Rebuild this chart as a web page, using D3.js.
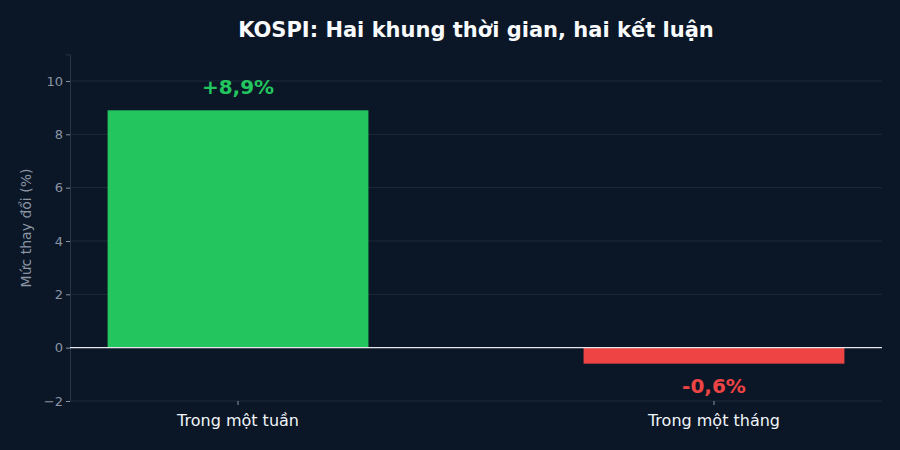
<!DOCTYPE html>
<html><head><meta charset="utf-8">
<script src="https://cdn.jsdelivr.net/npm/d3@7"></script>
<style>body{margin:0;background:#0b1727}</style></head>
<body><svg id="c" width="900" height="450"></svg>
<script>
const categories = ["Trong một tuần", "Trong một tháng"];
const values = [8.9, -0.6];
const valueLabels = ["+8,9%", "-0,6%"];
const yTicks = [-2, 0, 2, 4, 6, 8, 10];
const colors = ["#22c55e", "#ef4444"];

const svg = d3.select("#c");
const font = "DejaVu Sans, sans-serif";
svg.append("rect").attr("width",900).attr("height",450).attr("fill","#0b1727");
const x = d3.scaleBand().domain(categories).range([70,882]).paddingInner(0.452).paddingOuter(0.079);
const y = d3.scaleLinear().domain([-2,11]).range([401,54.3]);

svg.append("g").selectAll("line").data(yTicks).join("line")
  .attr("x1",70).attr("x2",882).attr("y1",d=>y(d)).attr("y2",d=>y(d))
  .attr("stroke","#1e2a3b").attr("stroke-width",1);

const ya = svg.append("g").attr("transform","translate(70,0)").call(d3.axisLeft(y).tickValues(yTicks).tickFormat(d=>d<0?"\u2212"+(-d):d).tickSize(4));
ya.select(".domain").attr("stroke","#2a3647");
ya.selectAll(".tick line").attr("stroke","#8a94a3");
ya.selectAll("text").attr("fill","#8a94a3").attr("font-size",13).attr("font-family",font);

svg.append("g").selectAll("rect").data(values).join("rect")
  .attr("x",(d,i)=>x(categories[i])).attr("width",x.bandwidth())
  .attr("y",d=>y(Math.max(0,d))).attr("height",d=>Math.abs(y(d)-y(0)))
  .attr("fill",(d,i)=>colors[i]);

svg.append("line").attr("x1",70).attr("x2",882).attr("y1",y(0)).attr("y2",y(0)).attr("stroke","#e5e7eb").attr("stroke-width",1.2);

const xa = svg.append("g").attr("transform","translate(0,401)").call(d3.axisBottom(x).tickSize(4));
xa.select(".domain").remove();
xa.selectAll(".tick line").attr("stroke","#8a94a3");
xa.selectAll("text").attr("fill","#f1f5f9").attr("font-size",16).attr("font-family",font).attr("dy","1.1em");

svg.append("g").selectAll("text").data(values).join("text")
  .attr("x",(d,i)=>x(categories[i])+x.bandwidth()/2)
  .attr("y",d=>d>=0?y(d)-16:y(d)+29)
  .attr("text-anchor","middle").attr("font-family",font).attr("font-weight","bold").attr("font-size",20)
  .attr("fill",(d,i)=>colors[i]).text((d,i)=>valueLabels[i]);

svg.append("text").attr("x",476).attr("y",37).attr("text-anchor","middle").attr("font-family",font)
  .attr("font-weight","bold").attr("font-size",21).attr("fill","#f8fafc").text("KOSPI: Hai khung thời gian, hai kết luận");

svg.append("text").attr("transform","translate(31,228) rotate(-90)").attr("text-anchor","middle")
  .attr("font-family",font).attr("font-size",14).attr("fill","#8a94a3").text("Mức thay đổi (%)");
</script></body></html>
